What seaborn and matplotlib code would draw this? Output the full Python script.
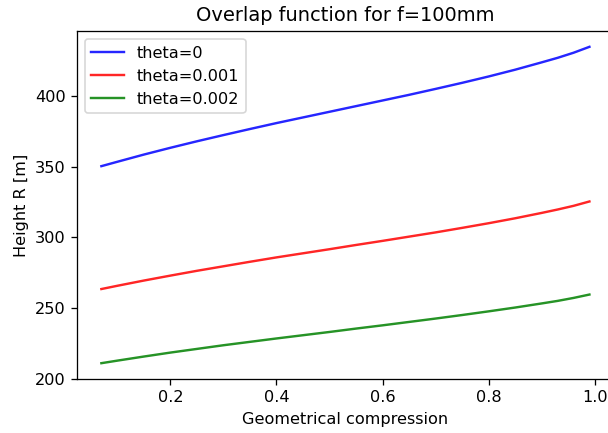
import numpy as np
import pandas as pd
import matplotlib
matplotlib.use("Agg")
import matplotlib.pyplot as plt
import seaborn as sns

compression = [0.07, 0.10, 0.15, 0.20, 0.25, 0.30, 0.35, 0.40, 0.45, 0.50,
               0.55, 0.60, 0.65, 0.70, 0.75, 0.80, 0.85, 0.90, 0.93, 0.96, 0.99]
height_theta0 = [350.5, 353.6, 358.7, 363.5, 368.1, 372.5, 376.8, 381.0, 385.0, 389.0,
                 393.0, 397.0, 401.0, 405.2, 409.5, 414.0, 418.8, 424.0, 427.2, 430.8, 435.0]
height_theta1 = [263.5, 265.8, 269.5, 273.0, 276.4, 279.6, 282.8, 285.9, 288.8, 291.7,
                 294.7, 297.6, 300.6, 303.6, 306.8, 310.1, 313.6, 317.4, 319.8, 322.4, 325.5]
height_theta2 = [211.0, 212.8, 215.7, 218.5, 221.1, 223.7, 226.1, 228.5, 230.8, 233.1,
                 235.5, 237.8, 240.2, 242.6, 245.1, 247.7, 250.4, 253.3, 255.1, 257.2, 259.6]
labels = ["theta=0", "theta=0.001", "theta=0.002"]
colors = ["#0000ff", "#ff0000", "#008000"]

df = pd.concat([
    pd.DataFrame({"x": compression, "y": h, "series": lab})
    for h, lab in zip([height_theta0, height_theta1, height_theta2], labels)
])

plt.rcParams['font.family'] = ['DejaVu Sans']
DPI = 116
fig = plt.figure(figsize=(608 / DPI, 433 / DPI), dpi=DPI)
ax = fig.add_axes([0.1266, 0.1247, 0.883, 0.8037])
sns.lineplot(data=df, x="x", y="y", hue="series", palette=dict(zip(labels, colors)),
             ax=ax, linewidth=1.5, alpha=0.85)
ax.set_xlim(0.024, 1.036)
ax.set_ylim(199.8, 446.2)
ax.set_xticks([0.2, 0.4, 0.6, 0.8, 1.0])
ax.set_xticklabels(["0.2", "0.4", "0.6", "0.8", "1.0"])
ax.set_yticks([200, 250, 300, 350, 400])
ax.set_xlabel("Geometrical compression")
ax.set_ylabel("Height R [m]")
ax.set_title("Overlap function for f=100mm")
ax.legend(loc="upper left", title=None)
fig.savefig("out.png", dpi=DPI)
